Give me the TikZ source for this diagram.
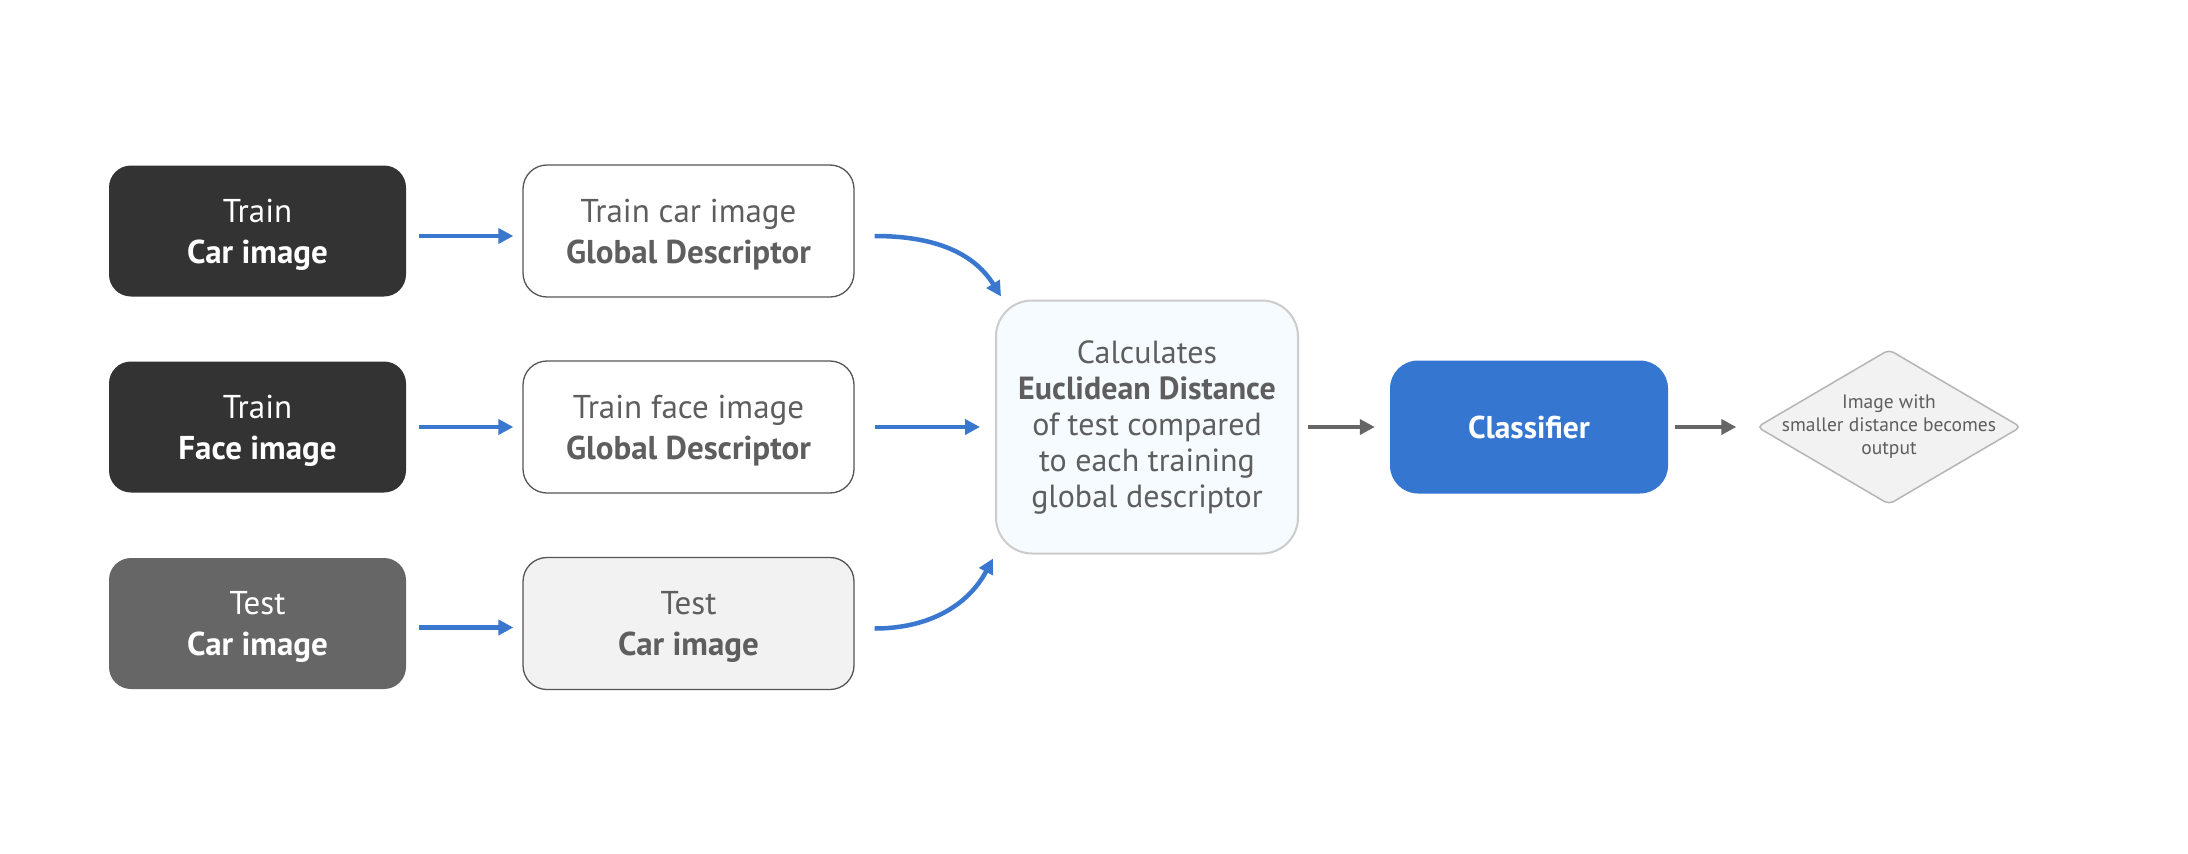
\documentclass[tikz,border=0pt]{standalone}
\usepackage{fontspec}
\setmainfont{PT Sans}
\usetikzlibrary{arrows.meta,shapes.geometric}
\definecolor{darkbox}{HTML}{333333}
\definecolor{testbox}{HTML}{666666}
\definecolor{txtgray}{HTML}{5E5E5E}
\definecolor{bordergray}{HTML}{555555}
\definecolor{lightfill}{HTML}{F2F2F2}
\definecolor{cfill}{HTML}{F5FBFE}
\definecolor{cborder}{HTML}{CCCCCC}
\definecolor{blueA}{HTML}{3576D1}
\definecolor{arrowblue}{HTML}{3A78D0}
\definecolor{arrowgray}{HTML}{666666}
\definecolor{dborder}{HTML}{B5B5B5}
\begin{document}
\begin{tikzpicture}[x=1pt,y=-1pt,
  inbox/.style={rounded corners=22pt, minimum width=297pt, minimum height=131pt, inner sep=0pt, text depth=0pt, align=center, text=white, font=\fontsize{33}{41}\selectfont},
  descbox/.style={rounded corners=24pt, draw=bordergray, line width=1.3pt, minimum width=331pt, minimum height=132pt, inner sep=0pt, text depth=0pt, align=center, text=txtgray, font=\fontsize{33}{41}\selectfont},
  bluearrow/.style={draw=arrowblue, line width=4.5pt, -{Triangle[length=15pt,width=15pt]}},
  grayarrow/.style={draw=arrowgray, line width=4.5pt, -{Triangle[length=15pt,width=15pt]}}
]
\useasboundingbox (0,0) rectangle (2188,854);
\fill[white] (0,0) rectangle (2188,854);

\node[inbox, fill=darkbox] (A1) at (257.5,231) {Train\\\textbf{Car image}};
\node[inbox, fill=darkbox] (A2) at (257.5,427) {Train\\\textbf{Face image}};
\node[inbox, fill=testbox] (A3) at (257.5,623.5) {Test\\\textbf{Car image}};

\node[descbox, fill=white] (B1) at (688.5,231) {Train car image\\\textbf{Global Descriptor}};
\node[descbox, fill=white] (B2) at (688.5,427) {Train face image\\\textbf{Global Descriptor}};
\node[descbox, fill=lightfill] (B3) at (688.5,623.5) {Test\\\textbf{Car image}};

\node[rounded corners=36pt, draw=cborder, line width=2pt, fill=cfill, minimum width=302pt, minimum height=253pt, inner sep=0pt, align=center, text=txtgray, font=\fontsize{32}{36}\selectfont] (C) at (1147,427)
  {Calculates\\\textbf{Euclidean Distance}\\of test compared\\to each training\\global descriptor};

\node[rounded corners=28pt, fill=blueA, minimum width=278pt, minimum height=133pt, inner sep=0pt, text=white, font=\fontsize{31.5}{36}\selectfont\bfseries] (K) at (1529,427) {Classifier};

\node[diamond, draw=dborder, line width=1.5pt, fill=lightfill, rounded corners=5pt, minimum width=264pt, minimum height=155pt, inner sep=0pt] (D) at (1889,427) {};
\node[align=center, text=txtgray, font=\fontsize{19.5}{23}\selectfont, inner sep=0pt] (Dt) at (D.center) {Image with\\smaller distance becomes\\output};

\draw[bluearrow, shorten <=13pt, shorten >=9pt] ([yshift=-5pt]A1.east) -- ([yshift=-5pt]B1.west);
\draw[bluearrow, shorten <=13pt, shorten >=9pt] (A2.east) -- (B2.west);
\draw[bluearrow, shorten <=13pt, shorten >=9pt] ([yshift=-4pt]A3.east) -- ([yshift=-4pt]B3.west);

\draw[bluearrow] ([xshift=20pt,yshift=-5pt]B1.east) to[out=0,in=122] ([xshift=6pt,yshift=3pt]C.north west);
\draw[bluearrow, shorten <=20pt, shorten >=15pt] (B2.east) -- (C.west);
\draw[bluearrow] ([xshift=20pt,yshift=-5pt]B3.east) to[out=0,in=-118] ([xshift=-2pt,yshift=-4pt]C.south west);

\draw[grayarrow, shorten <=9pt, shorten >=15pt] (C.east) -- (K.west);
\draw[grayarrow, shorten <=7pt, shorten >=20pt] (K.east) -- (D.west);
\end{tikzpicture}
\end{document}
